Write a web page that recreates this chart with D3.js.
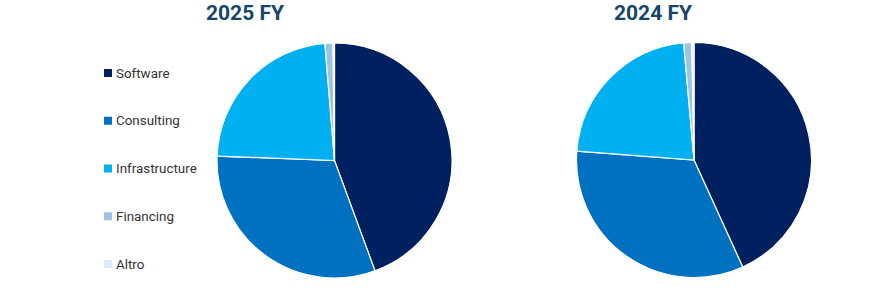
<!DOCTYPE html>
<html>
<head>
<meta charset="utf-8">
<script src="https://cdn.jsdelivr.net/npm/d3@7"></script>
<style>
  body { margin: 0; background: #fff; }
  svg { display: block; }
</style>
</head>
<body>
<svg id="chart" width="870" height="308"></svg>
<script>
const categories = ['Software', 'Consulting', 'Infrastructure', 'Financing', 'Altro'];
const colors = ['#002060', '#0070C0', '#00B0F0', '#9DC3E6', '#DEEBF7'];
const values2025 = [44.4, 31.2, 23.1, 1.1, 0.2];
const values2024 = [43.2, 33.0, 22.4, 1.1, 0.3];
const titles = ['2025 FY', '2024 FY'];

const svg = d3.select('#chart');
const font = 'Roboto, "Open Sans", sans-serif';

const color = d3.scaleOrdinal().domain(categories).range(colors);

const pie = d3.pie().sort(null).value(d => d.value);
const arc = d3.arc().innerRadius(0).outerRadius(117.5);

const charts = [
    {title: titles[0], values: values2025, cx: 334.5, cy: 160.5, tx: 245},
    {title: titles[1], values: values2024, cx: 694, cy: 160, tx: 653}
];

charts.forEach(function (c) {
    const data = categories.map((k, i) => ({key: k, value: c.values[i]}));

    const g = svg.append('g')
        .attr('transform', `translate(${c.cx},${c.cy})`);

    g.selectAll('path')
        .data(pie(data))
        .enter()
        .append('path')
        .attr('d', arc)
        .attr('fill', d => color(d.data.key))
        .attr('stroke', '#fff')
        .attr('stroke-width', 1.2);

    svg.append('text')
        .attr('x', c.tx)
        .attr('y', 20)
        .attr('text-anchor', 'middle')
        .style('font-family', font)
        .style('font-weight', 'bold')
        .style('font-size', '21px')
        .style('fill', '#17456A')
        .text(c.title);
});

// legend
const ly = d3.scalePoint().domain(categories).range([73, 264]);

const legend = svg.append('g')
    .selectAll('g')
    .data(categories)
    .enter()
    .append('g')
    .attr('transform', d => `translate(104,${ly(d)})`);

legend.append('rect')
    .attr('x', 0)
    .attr('y', -4)
    .attr('width', 8)
    .attr('height', 8)
    .attr('fill', d => color(d));

legend.append('text')
    .attr('x', 12)
    .attr('y', 0)
    .attr('dominant-baseline', 'central')
    .style('font-family', font)
    .style('font-size', '13.4px')
    .style('fill', '#333')
    .text(d => d);
</script>
</body>
</html>
